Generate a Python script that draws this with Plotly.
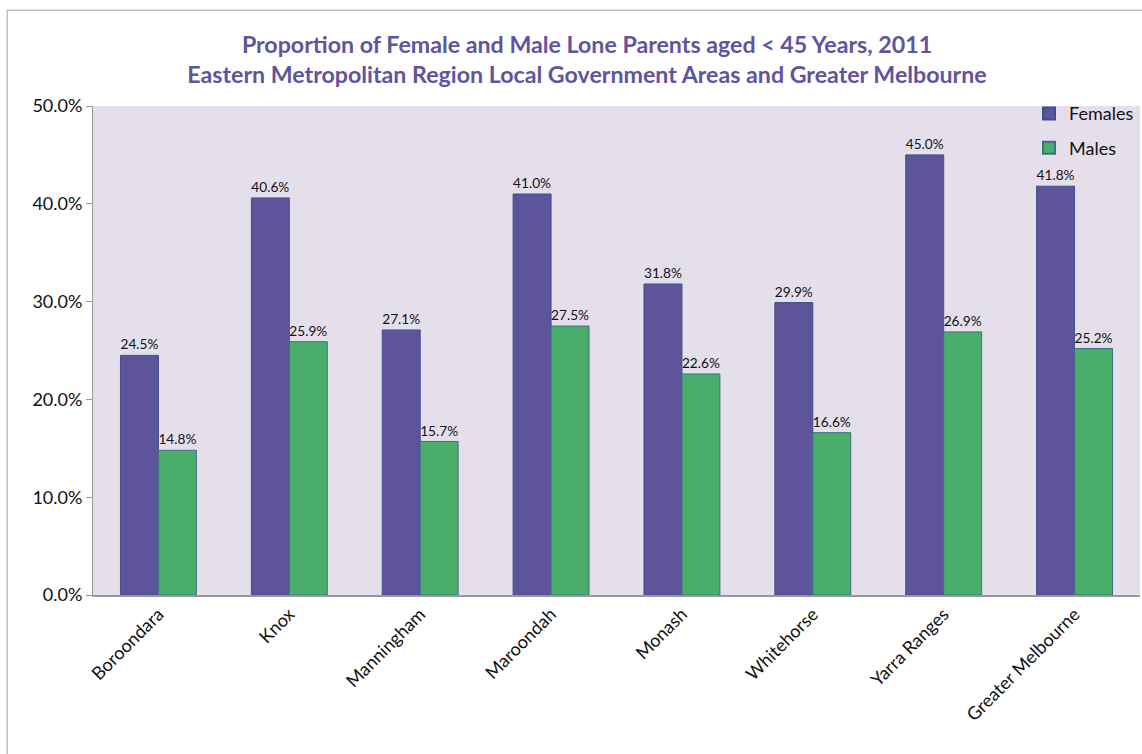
import plotly.graph_objects as go

categories = ["Boroondara", "Knox", "Manningham", "Maroondah", "Monash",
              "Whitehorse", "Yarra Ranges", "Greater Melbourne"]
females = [24.5, 40.6, 27.1, 41.0, 31.8, 29.9, 45.0, 41.8]
males = [14.8, 25.9, 15.7, 27.5, 22.6, 16.6, 26.9, 25.2]
y_ticks = [0, 10, 20, 30, 40, 50]
y_tick_labels = ["0.0%", "10.0%", "20.0%", "30.0%", "40.0%", "50.0%"]

FONT = "Lato"
fig = go.Figure()
fig.add_trace(go.Bar(
    name="Females", x=categories, y=females, legendgroup="f",
    marker=dict(color="#5E549C", line=dict(color="#3F4F8A", width=1)),
    text=[f"{v:.1f}%" for v in females], textposition="outside",
    textfont=dict(size=14, color="#111111", family=FONT), cliponaxis=False,
))
fig.add_trace(go.Bar(
    name="Males", x=categories, y=males, legendgroup="m",
    marker=dict(color="#48AE69", line=dict(color="#3F6F8A", width=1)),
    text=[f"{v:.1f}%" for v in males], textposition="outside",
    textfont=dict(size=14, color="#111111", family=FONT), cliponaxis=False,
))

fig.update_layout(
    width=1142, height=754,
    margin=dict(l=93, r=2, t=106, b=159, autoexpand=False),
    paper_bgcolor="white", plot_bgcolor="#E5DFEC",
    barmode="group", bargap=0.42, bargroupgap=0,
    font=dict(family=FONT, color="#111111"),
    title=dict(
        text="Proportion of Female and Male Lone Parents aged < 45 Years, 2011<br>"
             "Eastern Metropolitan Region Local Government Areas and Greater Melbourne",
        x=0.514, xanchor="center", y=0.93, yanchor="middle",
        font=dict(size=23.2, color="#5F54A0", family=FONT, weight="bold"),
    ),
    legend=dict(
        x=0.894, y=1.022, xanchor="left", yanchor="top",
        bgcolor="rgba(0,0,0,0)", font=dict(size=18, family=FONT),
        itemsizing="constant", tracegroupgap=8,
    ),
    xaxis=dict(
        tickangle=-45, tickfont=dict(size=18, family=FONT),
        showline=True, linecolor="#999999", linewidth=1.5,
        ticks="", showgrid=False,
    ),
    yaxis=dict(
        range=[0, 50], tickvals=y_ticks, ticktext=y_tick_labels,
        tickfont=dict(size=18, family=FONT),
        showline=True, linecolor="#999999", linewidth=1,
        ticks="outside", ticklen=6, tickcolor="#999999",
        showgrid=False, zeroline=False,
    ),
    shapes=[dict(type="rect", xref="paper", yref="paper",
                 x0=-0.082, x1=1.01, y0=-0.4, y1=1.196,
                 line=dict(color="#A0A0A0", width=1), layer="below")],
)
fig.write_html("out.html", config={"displayModeBar": False},
               post_script="document.body.style.margin='0';document.body.style.overflow='hidden';")
